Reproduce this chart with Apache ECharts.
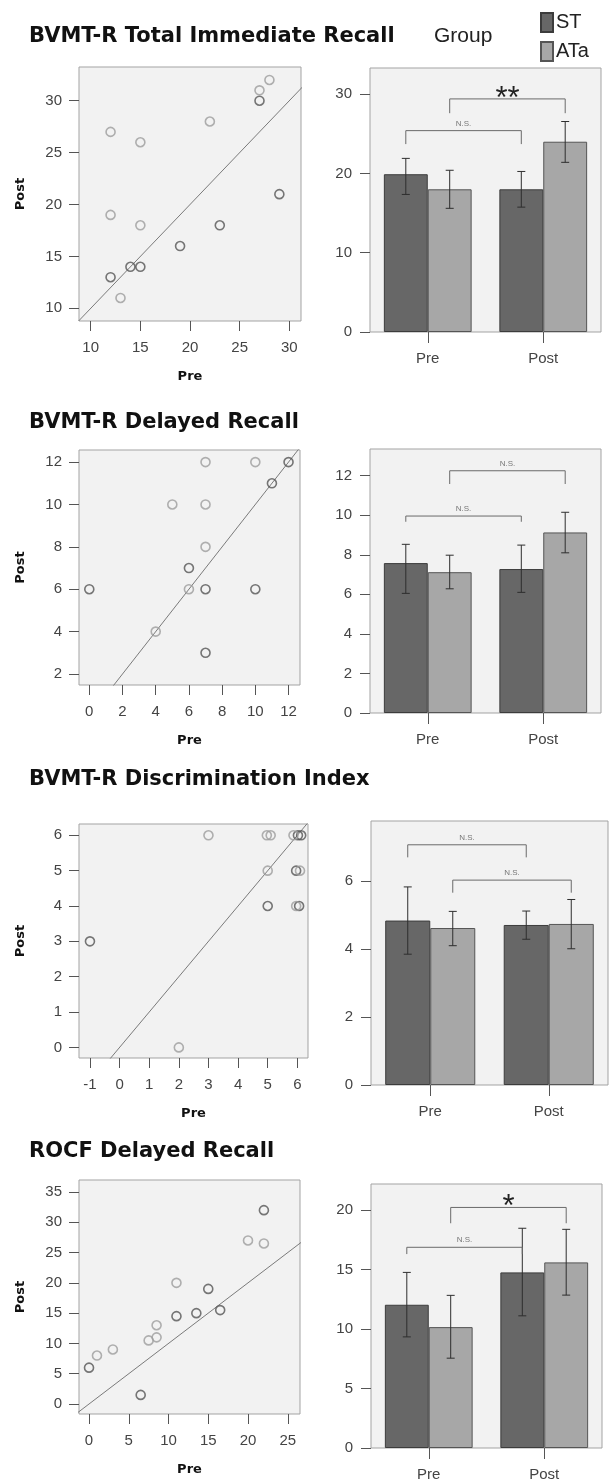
<!DOCTYPE html>
<html><head><meta charset="utf-8">
<script src="https://cdn.jsdelivr.net/npm/echarts@6/dist/echarts.min.js"></script>
<style>html,body{margin:0;padding:0;background:#fff}#c{width:609px;height:1482px}</style>
</head><body><div id="c"></div>
<script>
// ---------------- DATA ----------------
const panelTitles = ['BVMT-R Total Immediate Recall', 'BVMT-R Delayed Recall', 'BVMT-R Discrimination Index', 'ROCF Delayed Recall'];
const groups = ['ST', 'ATa'];
const categories = ['Pre', 'Post'];

// Scatter: [Pre, Post]
const s1ST  = [[27,30],[29,21],[23,18],[19,16],[15,14],[14,14],[12,13]];
const s1ATa = [[28,32],[27,31],[22,28],[12,27],[15,26],[12,19],[15,18],[13,11]];
const s2ST  = [[0,6],[6,7],[7,6],[7,3],[10,6],[11,11],[12,12]];
const s2ATa = [[4,4],[5,10],[6,6],[7,12],[7,10],[7,8],[10,12]];
const s3ST  = [[-1,3],[5,4],[6.02,6],[6.13,6],[5.96,5],[6.06,4]];
const s3ATa = [[2,0],[3,6],[4.97,6],[5.1,6],[5,5],[5.87,6],[6.09,5],[5.96,4]];
const s4ST  = [[0,6],[6.5,1.5],[11,14.5],[13.5,15],[15,19],[16.5,15.5],[22,32]];
const s4ATa = [[1,8],[3,9],[7.5,10.5],[8.5,13],[8.5,11],[11,20],[20,27],[22,26.5]];

// Scatter tick labels
const s1XTicks = [10,15,20,25,30];  const s1YTicks = [10,15,20,25,30];
const s2XTicks = [0,2,4,6,8,10,12]; const s2YTicks = [2,4,6,8,10,12];
const s3XTicks = [-1,0,1,2,3,4,5,6]; const s3YTicks = [0,1,2,3,4,5,6];
const s4XTicks = [0,5,10,15,20,25]; const s4YTicks = [0,5,10,15,20,25,30,35];

// Bars: means (Pre, Post) and error-bar limits
const b1ST = [19.9, 18.0];  const b1ATa = [18.0, 24.0];
const b1STLo = [17.35, 15.75]; const b1STHi = [21.9, 20.25];
const b1ATaLo = [15.6, 21.4];  const b1ATaHi = [20.4, 26.55];
const b2ST = [7.58, 7.28];  const b2ATa = [7.12, 9.13];
const b2STLo = [6.05, 6.1];  const b2STHi = [8.53, 8.49];
const b2ATaLo = [6.28, 8.1]; const b2ATaHi = [7.98, 10.15];
const b3ST = [4.84, 4.71];  const b3ATa = [4.62, 4.74];
const b3STLo = [3.85, 4.29]; const b3STHi = [5.83, 5.12];
const b3ATaLo = [4.10, 4.01]; const b3ATaHi = [5.11, 5.46];
const b4ST = [12.04, 14.76]; const b4ATa = [10.16, 15.6];
const b4STLo = [9.34, 11.11]; const b4STHi = [14.76, 18.47];
const b4ATaLo = [7.55, 12.85]; const b4ATaHi = [12.83, 18.38];

// Bar y tick labels
const b1YTicks = [0,10,20,30];
const b2YTicks = [0,2,4,6,8,10,12];
const b3YTicks = [0,2,4,6];
const b4YTicks = [0,5,10,15,20];

// Significance brackets: [fromCat, fromGroup(0=ST,1=ATa), toCat, toGroup, topValue, dropValue]
const b1Brackets = [[0,0,1,0,25.4,23.7],[0,1,1,1,29.4,27.6]];
const b1BracketLabels = ['N.S.', '**'];
const b2Brackets = [[0,0,1,0,9.96,9.67],[0,1,1,1,12.25,11.58]];
const b2BracketLabels = ['N.S.', 'N.S.'];
const b3Brackets = [[0,0,1,0,7.07,6.70],[0,1,1,1,6.03,5.66]];
const b3BracketLabels = ['N.S.', 'N.S.'];
const b4Brackets = [[0,0,1,0,16.87,16.3],[0,1,1,1,20.22,18.89]];
const b4BracketLabels = ['N.S.', '*'];

// ---------------- LAYOUT / STYLE ----------------
const panels = [
  {sST:s1ST, sATa:s1ATa, xr:[8.82,31.18], yr:[8.78,33.25], xt:s1XTicks, yt:s1YTicks,
   bST:b1ST, bATa:b1ATa, stLo:b1STLo, stHi:b1STHi, ataLo:b1ATaLo, ataHi:b1ATaHi, bMax:33.3, byt:b1YTicks, br:b1Brackets, brl:b1BracketLabels,
   sg:{left:79,top:67,width:222,height:254}, bg:{left:370,top:68,width:231,height:264}, titleTop:26},
  {sST:s2ST, sATa:s2ATa, xr:[-0.62,12.69], yr:[1.48,12.57], xt:s2XTicks, yt:s2YTicks,
   bST:b2ST, bATa:b2ATa, stLo:b2STLo, stHi:b2STHi, ataLo:b2ATaLo, ataHi:b2ATaHi, bMax:13.35, byt:b2YTicks, br:b2Brackets, brl:b2BracketLabels,
   sg:{left:79,top:450,width:221,height:235}, bg:{left:370,top:449,width:231,height:264}, titleTop:412},
  {sST:s3ST, sATa:s3ATa, xr:[-1.37,6.36], yr:[-0.30,6.32], xt:s3XTicks, yt:s3YTicks,
   bST:b3ST, bATa:b3ATa, stLo:b3STLo, stHi:b3STHi, ataLo:b3ATaLo, ataHi:b3ATaHi, bMax:7.77, byt:b3YTicks, br:b3Brackets, brl:b3BracketLabels,
   sg:{left:79,top:824,width:229,height:234}, bg:{left:371,top:821,width:237,height:264}, titleTop:769},
  {sST:s4ST, sATa:s4ATa, xr:[-1.26,26.54], yr:[-1.65,36.98], xt:s4XTicks, yt:s4YTicks,
   bST:b4ST, bATa:b4ATa, stLo:b4STLo, stHi:b4STHi, ataLo:b4ATaLo, ataHi:b4ATaHi, bMax:22.19, byt:b4YTicks, br:b4Brackets, brl:b4BracketLabels,
   sg:{left:79,top:1180,width:221,height:234}, bg:{left:371,top:1184,width:231,height:264}, titleTop:1141}
];

const BAR_FRAC = 0.38;
const COL_ST_BAR = '#676767', COL_ATA_BAR = '#a7a7a7';
const COL_ST_PT = '#555555', COL_ATA_PT = '#9c9c9c';
const LABEL_FONT = {fontFamily:'Liberation Sans', fontSize:15, color:'#444'};
const NAME_FONT = {fontFamily:'DejaVu Sans', fontWeight:'bold', fontSize:13, color:'#111'};
const TICK_STYLE = {show:true, length:10, lineStyle:{color:'#555', width:1}};
const NO_LINE = {show:false, onZero:false};

const grids = [], xAxes = [], yAxes = [];
const barSeries = [], otherSeries = [];

function errRender(params, api) {
  const cat = api.value(0), side = api.value(1) === 0 ? -1 : 1;
  const lo = api.coord([cat, api.value(2)]);
  const hi = api.coord([cat, api.value(3)]);
  const bw = api.size([1, 0])[0] * BAR_FRAC;
  const x = lo[0] + side * bw / 2;
  const cap = 4;
  const st = {stroke:'#2e2e2e', lineWidth:1};
  return {type:'group', children:[
    {type:'line', shape:{x1:x, y1:lo[1], x2:x, y2:hi[1]}, style:st},
    {type:'line', shape:{x1:x-cap, y1:lo[1], x2:x+cap, y2:lo[1]}, style:st},
    {type:'line', shape:{x1:x-cap, y1:hi[1], x2:x+cap, y2:hi[1]}, style:st}
  ]};
}

function makeBracketRender(labels) {
  return function (params, api) {
    const label = labels[params.dataIndex];
    const bw = api.size([1, 0])[0] * BAR_FRAC;
    const s1 = api.value(1) === 0 ? -1 : 1, s2 = api.value(3) === 0 ? -1 : 1;
    const p1 = api.coord([api.value(0), api.value(4)]);
    const p2 = api.coord([api.value(2), api.value(4)]);
    const yD = api.coord([api.value(0), api.value(5)])[1];
    const x1 = p1[0] + s1 * bw / 2, x2 = p2[0] + s2 * bw / 2, yT = p1[1];
    const star = label.indexOf('*') >= 0;
    return {type:'group', children:[
      {type:'polyline', shape:{points:[[x1,yD],[x1,yT],[x2,yT],[x2,yD]]}, style:{stroke:'#6a6a6a', lineWidth:1, fill:null}},
      {type:'text', x:(x1+x2)/2, y: star ? yT + 16 : yT - 3,
       style:{text:label, fill: star ? '#222' : '#777',
              font: star ? '31px "Liberation Sans"' : '8px "Liberation Sans"',
              textAlign:'center', textVerticalAlign:'bottom', align:'center', verticalAlign:'bottom'}}
    ]};
  };
}

panels.forEach(function (p, i) {
  const si = 2 * i, bi = 2 * i + 1;
  grids.push(Object.assign({show:true, backgroundColor:'#f2f2f2', borderColor:'#a3a3a3', borderWidth:1, containLabel:false}, p.sg));
  grids.push(Object.assign({show:true, backgroundColor:'#f2f2f2', borderColor:'#a3a3a3', borderWidth:1, containLabel:false}, p.bg));

  // scatter axes
  xAxes.push({gridIndex:si, type:'value', min:p.xr[0], max:p.xr[1], position:'bottom',
    name:'Pre', nameLocation:'middle', nameGap:49, nameTextStyle:NAME_FONT,
    axisLine:NO_LINE, splitLine:{show:false},
    axisTick:Object.assign({customValues:p.xt}, TICK_STYLE),
    axisLabel:Object.assign({customValues:p.xt, margin:19}, LABEL_FONT)});
  yAxes.push({gridIndex:si, type:'value', min:p.yr[0], max:p.yr[1], position:'left',
    name:'Post', nameLocation:'middle', nameGap:52, nameTextStyle:NAME_FONT,
    axisLine:NO_LINE, splitLine:{show:false},
    axisTick:Object.assign({customValues:p.yt}, TICK_STYLE),
    axisLabel:Object.assign({customValues:p.yt, margin:17}, LABEL_FONT)});
  // bar axes
  xAxes.push({gridIndex:bi, type:'category', data:categories, position:'bottom',
    axisLine:NO_LINE, splitLine:{show:false},
    axisTick:{show:true, alignWithLabel:true, length:11, lineStyle:{color:'#555'}},
    axisLabel:Object.assign({margin:19}, LABEL_FONT)});
  yAxes.push({gridIndex:bi, type:'value', min:0, max:p.bMax, position:'left',
    axisLine:NO_LINE, splitLine:{show:false},
    axisTick:Object.assign({customValues:p.byt}, TICK_STYLE),
    axisLabel:Object.assign({customValues:p.byt, margin:18}, LABEL_FONT)});

  barSeries.push({name:'ST', type:'bar', xAxisIndex:bi, yAxisIndex:bi, data:p.bST,
    barWidth:(BAR_FRAC*100)+'%', barGap:'0%', itemStyle:{color:COL_ST_BAR, borderColor:'#3c3c3c', borderWidth:1}, silent:true});
  barSeries.push({name:'ATa', type:'bar', xAxisIndex:bi, yAxisIndex:bi, data:p.bATa,
    barWidth:(BAR_FRAC*100)+'%', barGap:'0%', itemStyle:{color:COL_ATA_BAR, borderColor:'#555', borderWidth:1}, silent:true});

  const errData = [];
  categories.forEach(function (c, k) {
    errData.push([k, 0, p.stLo[k], p.stHi[k]]);
    errData.push([k, 1, p.ataLo[k], p.ataHi[k]]);
  });
  otherSeries.push({type:'custom', xAxisIndex:bi, yAxisIndex:bi, data:errData,
    encode:{x:0, y:[2,3]}, renderItem:errRender, silent:true, z:5});
  otherSeries.push({type:'custom', xAxisIndex:bi, yAxisIndex:bi, data:p.br,
    encode:{x:0, y:[4,5]}, renderItem:makeBracketRender(p.brl), silent:true, z:5});

  const lo = Math.min(p.xr[0], p.yr[0]), hi = Math.max(p.xr[1], p.yr[1]);
  otherSeries.push({type:'line', xAxisIndex:si, yAxisIndex:si, data:[[lo,lo],[hi,hi]],
    symbol:'none', clip:true, silent:true, lineStyle:{color:'#7a7a7a', width:1}, z:2});
  otherSeries.push({name:'ST', type:'scatter', xAxisIndex:si, yAxisIndex:si, data:p.sST,
    symbol:'circle', symbolSize:9, itemStyle:{color:'rgba(0,0,0,0)', borderColor:COL_ST_PT, borderWidth:1.6}, z:3});
  otherSeries.push({name:'ATa', type:'scatter', xAxisIndex:si, yAxisIndex:si, data:p.sATa,
    symbol:'circle', symbolSize:9, itemStyle:{color:'rgba(0,0,0,0)', borderColor:COL_ATA_PT, borderWidth:1.6}, z:3});
});

const titleList = panelTitles.map(function (t, i) {
  return {text:t, left:29, top:panels[i].titleTop, padding:0,
    textStyle:{fontFamily:'DejaVu Sans', fontWeight:'bold', fontSize:21, color:'#111'}};
});
titleList.push({text:'Group', left:434, top:26, padding:0,
  textStyle:{fontFamily:'Liberation Sans', fontWeight:'normal', fontSize:21, color:'#222'}});

const chart = echarts.init(document.getElementById('c'), null, {renderer:'canvas'});
chart.setOption({
  animation:false,
  backgroundColor:'#ffffff',
  title:titleList,
  legend:{data:groups, orient:'vertical', left:540, top:12, padding:0, itemGap:8,
    itemWidth:12, itemHeight:19, icon:'rect', selectedMode:false,
    textStyle:{fontFamily:'Liberation Sans', fontSize:20, color:'#222', padding:[0,0,0,-2]}},
  grid:grids, xAxis:xAxes, yAxis:yAxes,
  series:barSeries.concat(otherSeries)
});
</script>
</body></html>
